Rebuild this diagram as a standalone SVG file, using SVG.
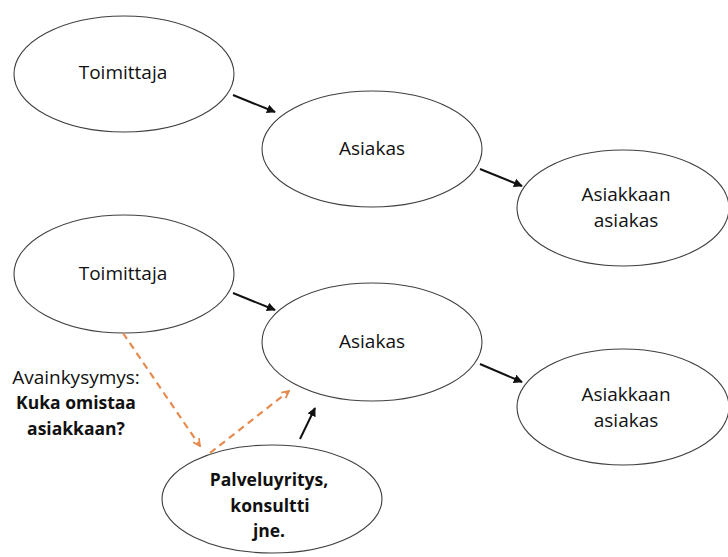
<svg xmlns="http://www.w3.org/2000/svg" width="728" height="557" viewBox="0 0 728 557">
<style>
.node ellipse{fill:#fff;stroke:#404040;stroke-width:1.1}
text{font-family:"Open Sans","Liberation Sans",sans-serif;font-size:19px;fill:#111;text-anchor:middle}
.b{font-weight:bold;font-size:17.5px}
.arr{stroke:#111;stroke-width:2;fill:none;marker-end:url(#ah)}
.dash{stroke:#E58B4F;stroke-width:2.2;fill:none;stroke-dasharray:7 5;marker-end:url(#oh)}
</style>
<defs>
<marker id="ah" viewBox="0 0 10 10" refX="9" refY="5" markerWidth="4.5" markerHeight="4.5" orient="auto" markerUnits="strokeWidth">
<path d="M0,0 L10,5 L0,10 z" fill="#111"/>
</marker>
<marker id="oh" viewBox="0 0 10 10" refX="9" refY="5" markerWidth="4" markerHeight="4" orient="auto" markerUnits="strokeWidth">
<path d="M1,1 L9,5 L1,9" fill="none" stroke="#E58B4F" stroke-width="2"/>
</marker>
</defs>
<rect width="728" height="557" fill="#fff"/>
<g id="toimittaja1" class="node"><ellipse cx="124" cy="74" rx="110" ry="58"/><text x="123" y="79">Toimittaja</text></g>
<g id="asiakas1" class="node"><ellipse cx="372" cy="149" rx="110" ry="58"/><text x="372" y="155">Asiakas</text></g>
<g id="asiakkaan1" class="node"><ellipse cx="623" cy="208" rx="106" ry="58"/><text x="626" y="201">Asiakkaan</text><text x="626" y="227">asiakas</text></g>
<g id="toimittaja2" class="node"><ellipse cx="124" cy="274" rx="110" ry="59"/><text x="123" y="280">Toimittaja</text></g>
<g id="asiakas2" class="node"><ellipse cx="372" cy="342" rx="110" ry="59"/><text x="372" y="348">Asiakas</text></g>
<g id="asiakkaan2" class="node"><ellipse cx="623" cy="407" rx="106" ry="58"/><text x="626" y="401">Asiakkaan</text><text x="626" y="427">asiakas</text></g>
<g id="palvelu" class="node"><ellipse cx="272" cy="499" rx="110" ry="54"/><text class="b" x="269" y="486">Palveluyritys,</text><text class="b" x="270" y="512">konsultti</text><text class="b" x="269" y="537">jne.</text></g>
<g id="question"><text x="76" y="384">Avainkysymys:</text><text class="b" x="76" y="409">Kuka omistaa</text><text class="b" x="76" y="435">asiakkaan?</text></g>
<g id="connectors">
<line class="arr" x1="233" y1="95" x2="275" y2="112"/>
<line class="arr" x1="480" y1="169" x2="522" y2="186"/>
<line class="arr" x1="233" y1="293" x2="275" y2="310"/>
<line class="arr" x1="480" y1="364" x2="522" y2="382"/>
<line class="arr" x1="300" y1="439" x2="315" y2="408"/>
<line class="dash" x1="123" y1="333" x2="200" y2="446"/>
<line class="dash" x1="210" y1="453" x2="289" y2="391"/>
</g>
</svg>
